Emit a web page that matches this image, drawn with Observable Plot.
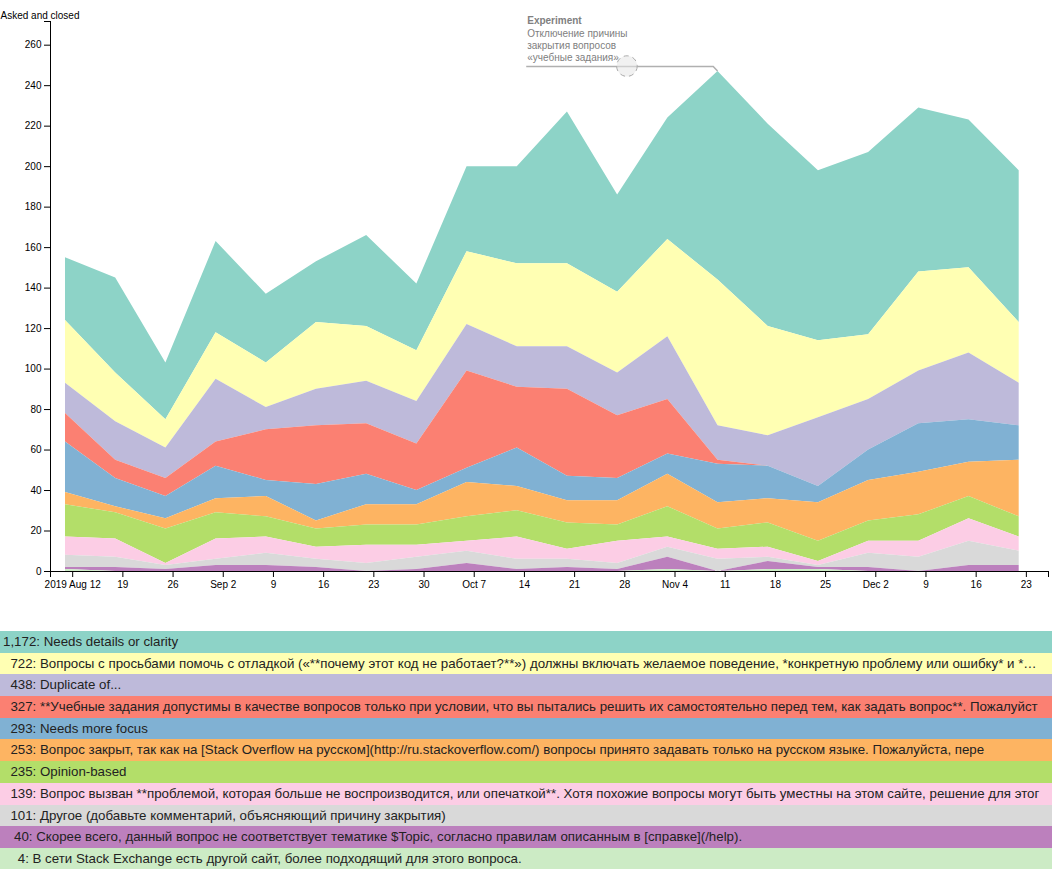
<!DOCTYPE html>
<html>
<head>
<meta charset="utf-8">
<script src="https://cdn.jsdelivr.net/npm/d3@7"></script>
<script src="https://cdn.jsdelivr.net/npm/@observablehq/plot@0.6"></script>
<style>
  body { margin: 0; background: #fff; font-family: Arial, "Liberation Sans", sans-serif; }
  #chart svg { display: block; }
  #legend { margin-top: 31px; width: 1052px; }
  .row { height: 21.7px; line-height: 21.7px; font-size: 13.3px; white-space: pre; overflow: hidden; color: #222; padding-left: 3px; }
</style>
</head>
<body>
<div id="chart"></div>
<div id="legend"></div>
<script>
// Weeks (data points)
const weeks = ["2019-08-11","2019-08-18","2019-08-25","2019-09-01","2019-09-08","2019-09-15","2019-09-22","2019-09-29","2019-10-06","2019-10-13",
               "2019-10-20","2019-10-27","2019-11-03","2019-11-10","2019-11-17","2019-11-24","2019-12-01","2019-12-08","2019-12-15","2019-12-22"];

// Series (closed questions per close reason per week)
const needsDetails = [31,47,28,45,34,30,45,33,42,48,75,48,60,103,100,84,90,81,73,75];
const debugging    = [31,24,14,23,22,33,27,25,36,41,41,40,48,72,54,38,32,49,42,30];
const duplicate    = [15,19,15,31,11,18,21,21,23,20,21,21,31,17,15,34,25,26,33,21];
const homework     = [14,9,9,12,25,29,25,23,48,30,43,31,27,2,0,0,0,0,0,0];
const needsFocus   = [25,14,11,16,8,18,15,7,7,19,12,11,10,19,16,8,15,24,21,17];
const notRussian   = [6,3,5,7,10,4,10,10,17,12,11,12,16,13,12,19,20,21,17,28];
const opinionBased = [16,13,17,13,10,9,10,10,12,13,13,8,15,10,12,10,10,13,11,10];
const typo         = [9,9,1,10,8,6,9,6,5,11,5,11,5,5,5,2,6,8,11,7];
const otherReason  = [6,5,2,3,6,4,4,6,6,5,4,3,5,6,2,1,7,7,12,7];
const offTopic     = [1,2,1,3,3,2,0,1,4,1,2,1,6,0,4,1,2,0,3,3];
const otherSite    = [1,0,0,0,0,0,0,0,0,0,0,0,1,0,1,1,0,0,0,0];

// Reason names (legend order, top of stack first), as displayed
const reasonNames = [
  "Needs details or clarity",
  "Вопросы с просьбами помочь с отладкой («**почему этот код не работает?**») должны включать желаемое поведение, *конкретную проблему или ошибку* и *…",
  "Duplicate of...",
  "**Учебные задания допустимы в качестве вопросов только при условии, что вы пытались решить их самостоятельно перед тем, как задать вопрос**. Пожалуйст",
  "Needs more focus",
  "Вопрос закрыт, так как на [Stack Overflow на русском](http://ru.stackoverflow.com/) вопросы принято задавать только на русском языке. Пожалуйста, пере",
  "Opinion-based",
  "Вопрос вызван **проблемой, которая больше не воспроизводится, или опечаткой**. Хотя похожие вопросы могут быть уместны на этом сайте, решение для этог",
  "Другое (добавьте комментарий, объясняющий причину закрытия)",
  "Скорее всего, данный вопрос не соответствует тематике $Topic, согласно правилам описанным в [справке](/help).",
  "В сети Stack Exchange есть другой сайт, более подходящий для этого вопроса."
];
const reasonColors = ["#8dd3c7","#ffffb3","#bebada","#fb8072","#80b1d3","#fdb462","#b3de69","#fccde5","#d9d9d9","#bc80bd","#ccebc5"];
const seriesList = [needsDetails, debugging, duplicate, homework, needsFocus, notRussian, opinionBased, typo, otherReason, offTopic, otherSite];

// Axis ticks
const tickDates  = ["2019-08-12","2019-08-19","2019-08-26","2019-09-02","2019-09-09","2019-09-16","2019-09-23","2019-09-30","2019-10-07","2019-10-14",
                    "2019-10-21","2019-10-28","2019-11-04","2019-11-11","2019-11-18","2019-11-25","2019-12-02","2019-12-09","2019-12-16","2019-12-23"];
const tickLabels = ["2019 Aug 12","19","26","Sep 2","9","16","23","30","Oct 7","14","21","28","Nov 4","11","18","25","Dec 2","9","16","23"];
const yTickValues = [0,20,40,60,80,100,120,140,160,180,200,220,240,260];
const yLabel = "Asked and closed";
const xDomain = [new Date("2019-08-08T21:47:00Z"), new Date("2019-12-26T02:05:00Z")];

// Annotation
const annotation = {
  date: "2019-11-10",
  title: "Experiment",
  lines: ["Отключение причины", "закрытия вопросов", "«учебные задания»"]
};

// Build table
const table = [];
reasonNames.forEach((name, k) => {
  weeks.forEach((w, i) => table.push({date: new Date(w), reason: name, value: seriesList[k][i]}));
});
const weekTotals = weeks.map((w, i) => d3.sum(seriesList, s => s[i]));
const yMax = d3.max(weekTotals) * 1.1;
const labelByTime = new Map(tickDates.map((d, i) => [+new Date(d), tickLabels[i]]));
const annValue = weekTotals[weeks.indexOf(annotation.date)];

function annotationMark(index, scales) {
  const px = scales.x(new Date(annotation.date));
  const py = scales.y(annValue);
  const g = d3.create("svg:g");
  g.append("path")
    .attr("d", `M${px},${py}L${px - 4.3},${py - 4.6}H${px - 191.3}`)
    .attr("fill", "none").attr("stroke", "#b0b0b0").attr("stroke-width", 1.5);
  g.append("circle")
    .attr("cx", px - 90.6).attr("cy", py - 4.9).attr("r", 10.3)
    .attr("fill", "rgba(230,230,230,0.55)").attr("stroke", "#aaa")
    .attr("stroke-width", 1).attr("stroke-dasharray", "5,4");
  const t = g.append("text").attr("font-size", 10).attr("fill", "#808080")
    .attr("text-anchor", "start")
    .attr("font-family", "Arial, 'Liberation Sans', sans-serif");
  t.append("tspan").attr("x", px - 190.3).attr("y", py - 46.6).attr("font-weight", "bold").text(annotation.title);
  annotation.lines.forEach((line, i) => {
    t.append("tspan").attr("x", px - 190.3).attr("y", py - 34.3 + i * 12.2).text(line);
  });
  return g.node();
}

const chart = Plot.plot({
  width: 1052,
  height: 600,
  marginLeft: 50,
  marginRight: 4,
  marginTop: 21,
  marginBottom: 29,
  style: {fontFamily: "Arial, 'Liberation Sans', sans-serif", fontSize: "10px", background: "white", overflow: "visible"},
  x: {type: "utc", domain: xDomain},
  y: {domain: [0, yMax]},
  color: {domain: reasonNames, range: reasonColors},
  marks: [
    Plot.areaY(table, {x: "date", y: "value", fill: "reason", order: [...reasonNames].reverse()}),
    Plot.ruleX([xDomain[0]], {stroke: "black"}),
    Plot.ruleY([0], {stroke: "black"}),
    Plot.axisX({ticks: [xDomain[0], ...tickDates.map(d => new Date(d)), xDomain[1]],
                tickFormat: d => labelByTime.get(+d) ?? "", label: null}),
    Plot.axisY({ticks: [...yTickValues, yMax], tickFormat: d => d === yMax ? "" : String(d), label: null}),
    Plot.text([yLabel], {frameAnchor: "top-left", dx: -50, dy: -3, textAnchor: "start", lineAnchor: "bottom", fill: "black"}),
    annotationMark
  ]
});
document.getElementById("chart").append(chart);

// Legend rows
const fmt = d3.format(",");
const legend = d3.select("#legend");
reasonNames.forEach((name, k) => {
  const total = d3.sum(seriesList[k]);
  legend.append("div").attr("class", "row")
    .style("background", reasonColors[k])
    .text(`${fmt(total).padStart(5, " ")}: ${name}`);
});
</script>
</body>
</html>
